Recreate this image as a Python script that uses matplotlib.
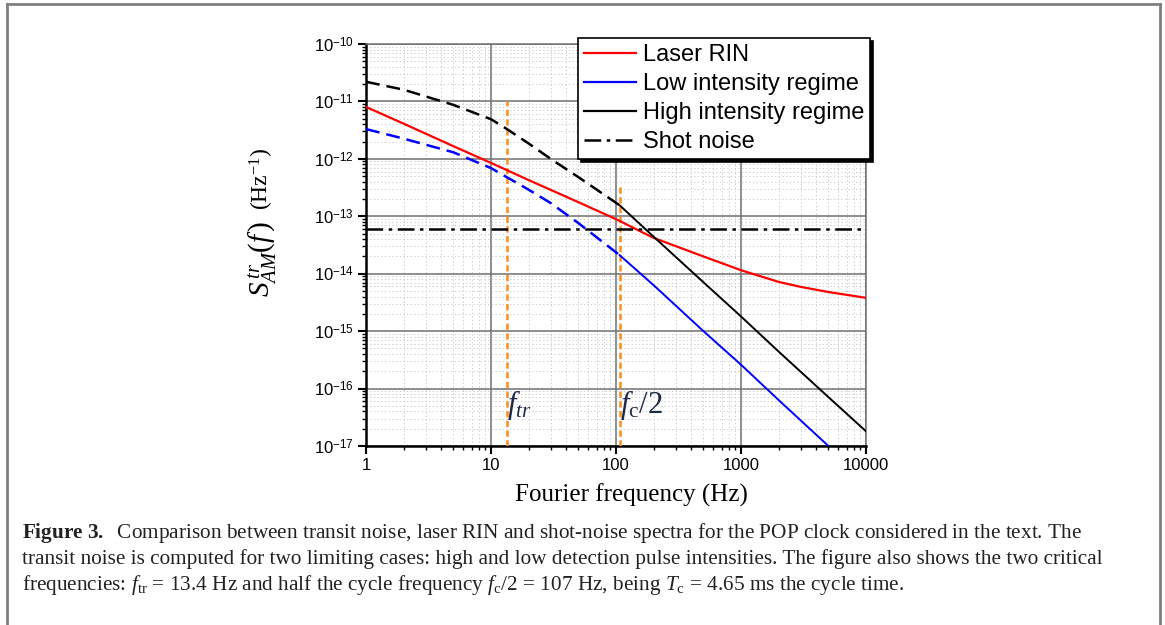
# Transit noise vs laser RIN vs shot noise (POP clock)
import matplotlib.pyplot as plt
import numpy as np
from matplotlib.lines import Line2D
from matplotlib.ticker import LogLocator, NullFormatter

plt.rcParams['font.family'] = ['Liberation Sans', 'DejaVu Sans']
plt.rcParams['mathtext.fontset'] = 'custom'
plt.rcParams['mathtext.rm'] = 'Liberation Serif'
plt.rcParams['mathtext.it'] = 'Liberation Serif:italic'
plt.rcParams['mathtext.bf'] = 'Liberation Serif:bold'
plt.rcParams['mathtext.sf'] = 'Liberation Sans'
plt.rcParams['lines.scale_dashes'] = False

# Dados
f_rin = [1, 2, 5, 10, 20, 50, 100, 200, 500, 1000, 2000, 3000, 5000, 10000]
s_rin = [8e-12, 4.1e-12, 1.66e-12, 8.5e-13, 4.27e-13, 1.76e-13, 8.9e-14, 4.2e-14,
         2.0e-14, 1.15e-14, 7.2e-15, 5.9e-15, 4.8e-15, 3.8e-15]

f_low = [1, 2, 5, 10, 20, 30, 50, 107, 200, 500, 1000, 2000, 5000]
s_low = [3.3e-12, 2.25e-12, 1.3e-12, 6.9e-13, 2.9e-13, 1.7e-13, 7.6e-14, 2.1e-14,
         6.3e-15, 1.0e-15, 2.6e-16, 6.3e-17, 1.0e-17]

f_high = [1, 2, 5, 10, 13.4, 20, 30, 50, 107, 200, 500, 1000, 2000, 5000, 10000]
s_high = [2.2e-11, 1.6e-11, 8.7e-12, 4.9e-12, 3.3e-12, 1.85e-12, 1.0e-12, 4.8e-13,
          1.55e-13, 4.4e-14, 7.1e-15, 1.8e-15, 4.4e-16, 7.1e-17, 1.8e-17]

shot_noise = 6e-14

f_tr = 13.4
f_c2 = 107
marker_freqs = [f_tr, f_c2]
marker_tops = [1e-11, 3.5e-13]

y_ticks = [1e-10, 1e-11, 1e-12, 1e-13, 1e-14, 1e-15, 1e-16, 1e-17]
y_labels = ['10$^{\\mathsf{-%d}}$' % k for k in range(10, 18)]
x_ticks = [1, 10, 100, 1000, 10000]
x_labels = ['1', '10', '100', '1000', '10000']

fig = plt.figure(figsize=(11.65, 6.25), dpi=100)
ax = fig.add_axes([0.3142, 0.2864, 0.4292, 0.6432])
ax.set_xscale('log')
ax.set_yscale('log')
ax.set_xlim(1, 10000)
ax.set_ylim(1e-17, 1e-10)

# curvas: tracejado abaixo de fc/2, contínuo acima
f_low = np.array(f_low); s_low = np.array(s_low)
f_high = np.array(f_high); s_high = np.array(s_high)
lo = f_low <= f_c2
hi = f_high <= f_c2
ax.plot(f_rin, s_rin, color='#ff0000', lw=1.6, zorder=4)
ax.plot(f_low[lo], s_low[lo], color='#0000ff', lw=1.8, dashes=(10, 5), zorder=4)
ax.plot(f_low[f_low >= f_c2], s_low[f_low >= f_c2], color='#0000ff', lw=1.4, zorder=4)
ax.plot(f_high[hi], s_high[hi], color='black', lw=1.8, dashes=(10, 5), zorder=4)
ax.plot(f_high[f_high >= f_c2], s_high[f_high >= f_c2], color='black', lw=1.4, zorder=4)
ax.axhline(shot_noise, color='black', lw=1.8, dashes=(12, 4, 2.5, 4), zorder=4)
ax.vlines(marker_freqs, 1e-17, marker_tops, color='#ff8c1a', lw=1.8,
          linestyles=(0, (4.5, 2.5)), zorder=3)

ax.text(f_tr * 1.01, 5.2e-17, r'$f_{tr}$', fontsize=22, color='#1c2a48', va='center')
ax.text(f_c2 * 1.01, 5.2e-17, r'$f_{\mathrm{c}}/2$', fontsize=22, color='#1c2a48', va='center')

# grade e eixos
ax.set_xticks(x_ticks)
ax.set_xticklabels(x_labels)
ax.set_yticks(y_ticks)
ax.set_yticklabels(y_labels)
ax.xaxis.set_minor_locator(LogLocator(base=10, subs=np.arange(2, 10)))
ax.yaxis.set_minor_locator(LogLocator(base=10, subs=np.arange(2, 10)))
ax.xaxis.set_minor_formatter(NullFormatter())
ax.yaxis.set_minor_formatter(NullFormatter())
ax.tick_params(which='major', direction='out', length=6, width=1.5, labelsize=12, pad=3)
ax.tick_params(which='minor', direction='out', length=3, width=1.0)
ax.grid(which='major', color='#707070', lw=1.1)
ax.grid(which='minor', color='#cfcfcf', ls=':', lw=0.7)
ax.set_axisbelow(True)
for side in ['left', 'bottom']:
    ax.spines[side].set_linewidth(1.8)
    ax.spines[side].set_color('black')
for side in ['top', 'right']:
    ax.spines[side].set_linewidth(1.1)
    ax.spines[side].set_color('#707070')

ax.set_xlabel('Fourier frequency (Hz)', fontsize=18, family='Liberation Serif')
ax.xaxis.set_label_coords(0.53, -0.093)
# rótulo do eixo y em duas partes
ax.text(-0.206, 0.465, r'$S^{\,tr}_{AM}(f\,)$', fontsize=21, rotation=90,
        ha='center', va='center', transform=ax.transAxes)
ax.text(-0.208, 0.665, r'(Hz$^{\mathrm{-1}}$)', fontsize=17, family='Liberation Serif',
        rotation=90, ha='center', va='center', transform=ax.transAxes)

handles = [Line2D([], [], color='#ff0000', lw=1.6),
           Line2D([], [], color='#0000ff', lw=1.6),
           Line2D([], [], color='black', lw=1.6),
           Line2D([], [], color='black', lw=1.8, dashes=(12, 4, 2.5, 4))]
labels = ['Laser RIN', 'Low intensity regime', 'High intensity regime', 'Shot noise']
leg = fig.legend(handles, labels, loc='upper right', bbox_to_anchor=(0.747, 0.939),
                 fontsize=17, frameon=True, fancybox=False, borderaxespad=0,
                 handlelength=2.2, handletextpad=0.3, labelspacing=0.3, borderpad=0.25,
                 shadow={'color': 'black', 'alpha': 1})
leg.get_frame().set_edgecolor('black')
leg.get_frame().set_linewidth(1.2)
leg.set_zorder(10)

# moldura da figura
gray = '#808080'
fig.add_artist(Line2D([7/1165, 7/1165], [0, 1 - 4/625], transform=fig.transFigure, color=gray, lw=2))
fig.add_artist(Line2D([7/1165, 1160/1165], [1 - 4/625, 1 - 4/625], transform=fig.transFigure, color=gray, lw=2))
fig.add_artist(Line2D([1160/1165, 1160/1165], [0, 1 - 4/625], transform=fig.transFigure, color=gray, lw=2))

# legenda da figura
cap = [r'$\mathbf{Figure\ 3.}$  Comparison between transit noise, laser RIN and shot-noise spectra for the POP clock considered in the text. The',
       'transit noise is computed for two limiting cases: high and low detection pulse intensities. The figure also shows the two critical',
       r'frequencies: $f_{\mathrm{tr}}$ = 13.4 Hz and half the cycle frequency $f_{\mathrm{c}}/2$ = 107 Hz, being $T_{\mathrm{c}}$ = 4.65 ms the cycle time.']
for i, line in enumerate(cap):
    fig.text(22/1165, 1 - (533 + 26*i)/625, line, fontsize=15.3, family='Liberation Serif',
             color='#222222', va='center', ha='left')

fig.savefig('out.png', dpi=100)
